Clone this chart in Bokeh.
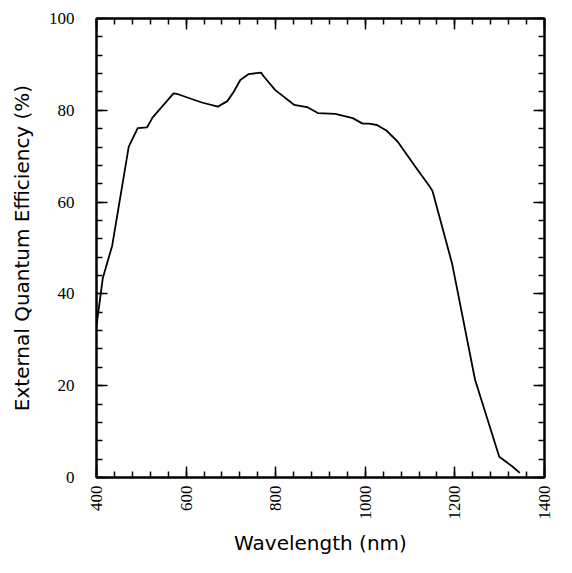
from bokeh.plotting import figure
from bokeh.models import Range1d, LinearAxis, FixedTicker, CustomJSTickFormatter
from bokeh.embed import file_html
from bokeh.resources import INLINE
import math

wavelength = [400, 414, 435, 472, 492, 513, 525, 572, 582, 635, 671, 692, 706, 721, 740,
              767, 774, 799, 841, 870, 894, 933, 972, 994, 1008, 1026, 1047, 1072, 1111,
              1143, 1150, 1194, 1245, 1299, 1327, 1345]
efficiency = [33.1, 43.4, 50.5, 72.1, 76.1, 76.3, 78.4, 83.7, 83.5, 81.7, 80.8, 82.0, 84.0,
              86.6, 87.9, 88.2, 87.3, 84.4, 81.2, 80.7, 79.4, 79.2, 78.3, 77.1, 77.1, 76.8,
              75.6, 73.2, 67.8, 63.5, 62.4, 46.5, 21.3, 4.5, 2.5, 1.0]
x_ticks = [400, 600, 800, 1000, 1200, 1400]
y_ticks = [0, 20, 40, 60, 80, 100]

p = figure(width=556, height=557, output_backend="svg", toolbar_location=None,
           x_range=Range1d(400, 1400), y_range=Range1d(0, 100),
           min_border_left=96, min_border_right=12, min_border_top=18, min_border_bottom=80,
           x_axis_label="Wavelength (nm)", y_axis_label="External Quantum Efficiency (%)")

p.xgrid.visible = False
p.ygrid.visible = False
p.outline_line_color = "black"
p.outline_line_width = 2
p.background_fill_color = "white"
p.border_fill_color = "white"

p.line(wavelength, efficiency, line_color="black", line_width=1.8)

def style(ax, ticks, minor, labels=True):
    ax.ticker = FixedTicker(ticks=ticks, minor_ticks=minor)
    ax.axis_line_color = "black"
    ax.axis_line_width = 2
    ax.major_tick_in = 11
    ax.major_tick_out = 0
    ax.minor_tick_in = 6
    ax.minor_tick_out = 0
    ax.major_tick_line_width = 1.5
    ax.minor_tick_line_width = 1.5
    ax.major_tick_line_color = "black"
    ax.minor_tick_line_color = "black"
    if not labels:
        ax.formatter = CustomJSTickFormatter(code="return '';")
        ax.major_label_standoff = 0
        ax.axis_label_standoff = 0

xminor = [400 + 40 * i for i in range(26)]
yminor = [4 * i for i in range(26)]

xa = p.xaxis[0]
style(xa, x_ticks, xminor)
xa.major_label_orientation = math.pi / 2
xa.major_label_text_font = "Liberation Serif"
xa.major_label_text_font_size = "17px"
xa.major_label_text_color = "black"
xa.major_label_standoff = 8
xa.axis_label_text_font = "DejaVu Sans"
xa.axis_label_text_font_style = "normal"
xa.axis_label_text_font_size = "20px"
xa.axis_label_text_color = "black"
xa.axis_label_standoff = 8

ya = p.yaxis[0]
style(ya, y_ticks, yminor)
ya.major_label_text_font = "Liberation Serif"
ya.major_label_text_font_size = "17px"
ya.major_label_text_color = "black"
ya.major_label_standoff = 22
ya.axis_label_text_font = "DejaVu Sans"
ya.axis_label_text_font_style = "normal"
ya.axis_label_text_font_size = "20px"
ya.axis_label_text_color = "black"
ya.axis_label_standoff = 12

top = LinearAxis()
style(top, x_ticks, xminor, labels=False)
p.add_layout(top, "above")

right = LinearAxis()
style(right, y_ticks, yminor, labels=False)
p.add_layout(right, "right")

open("out.html", "w").write(file_html(p, INLINE))
